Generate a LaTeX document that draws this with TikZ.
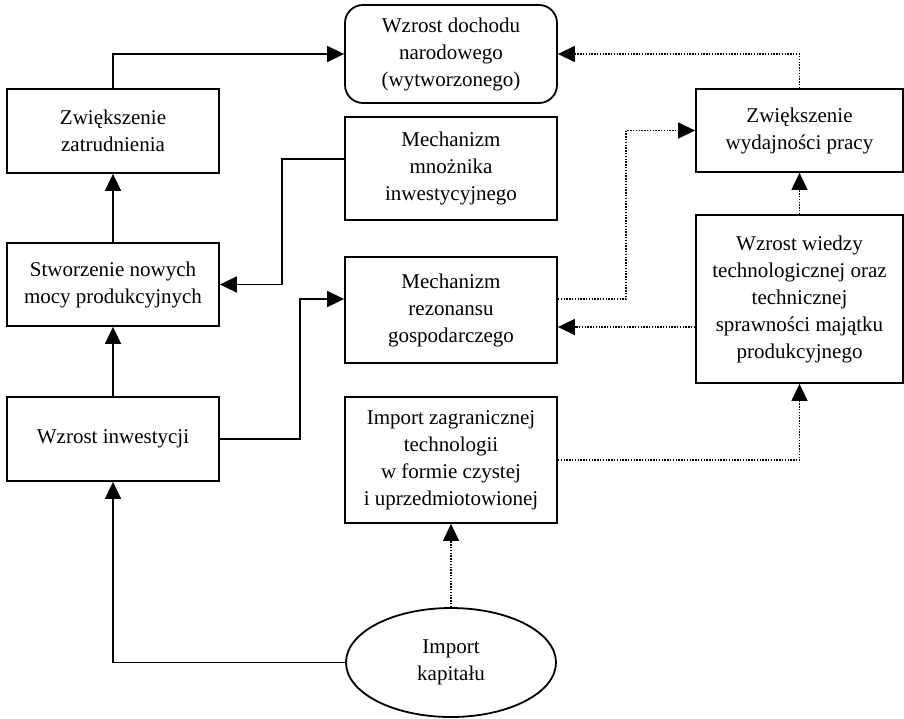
\documentclass[tikz,border=0pt]{standalone}
\usepackage{fontspec}
\setmainfont{Liberation Serif}
\usetikzlibrary{arrows.meta,shapes.geometric}
\tikzstyle{box}=[draw,line width=0.9pt,align=center,inner sep=0pt,font=\fontsize{10.5}{13.5}\selectfont]
\tikzstyle{solidarrow}=[line width=0.9pt,-{Triangle[length=8.5pt,width=8pt]}]
\tikzstyle{dotarrow}=[line width=0.7pt,dash pattern=on 0.7pt off 0.7pt,-{Triangle[length=8.5pt,width=8pt]}]

\begin{document}
\begin{tikzpicture}[x=0.5pt,y=-0.5pt]
  \useasboundingbox (0,0) rectangle (904,718);
  \node[box,rounded corners=9pt,minimum width=106pt,minimum height=49pt] (dochod) at (451,54)
    {Wzrost dochodu\\narodowego\\(wytworzonego)};
  \foreach \name/\px/\py/\w/\h/\text in {zatrud/113/131/212/84/Zwiększenie\\zatrudnienia,
                                        moce/113/284.5/212/83/Stworzenie nowych\\mocy produkcyjnych,
                                        inwest/113/439/212/84/Wzrost inwestycji,
                                        mnoznik/451/168.5/212/103/Mechanizm\\mnożnika\\inwestycyjnego,
                                        rezon/451/310/212/106/Mechanizm\\rezonansu\\gospodarczego,
                                        techn/451/460/212/126/Import zagranicznej\\technologii\\w formie czystej\\i uprzedmiotowionej,
                                        wydajn/799.5/130.5/207/83/Zwiększenie\\wydajności pracy,
                                        wiedza/799.5/299/207/168/Wzrost wiedzy\\technologicznej oraz\\technicznej\\sprawności majątku\\produkcyjnego}
    \node[box,minimum width=\w*0.5pt,minimum height=\h*0.5pt] (\name) at (\px,\py) {\text};
  \node[box,ellipse,minimum width=105pt,minimum height=54.5pt] (kapital) at (451,662.5) {Import\\kapitału};
  % solid connectors
  \draw[solidarrow] (zatrud.north) |- (dochod.west);
  \draw[solidarrow] (moce.north) -- (zatrud.south);
  \draw[solidarrow] (inwest.north) -- (moce.south);
  \draw[solidarrow] (mnoznik.west |- 0,159) -- (282,159) |- (moce.east);
  \draw[solidarrow] (inwest.east) -- (300,439) |- (rezon.west |- 0,299);
  \draw[solidarrow] (kapital.west) -| (inwest.south);
  % dotted connectors
  \draw[dotarrow] (rezon.east |- 0,299) -- (626,299) |- (wydajn.west);
  \draw[dotarrow] (wydajn.north) |- (dochod.east);
  \draw[dotarrow] (wiedza.north) -- (wydajn.south);
  \draw[dotarrow] (wiedza.west |- 0,327) -- (rezon.east |- 0,327);
  \draw[dotarrow] (techn.east) -| (wiedza.south);
  \draw[dotarrow] (kapital.north) -- (techn.south);
\end{tikzpicture}
\end{document}
